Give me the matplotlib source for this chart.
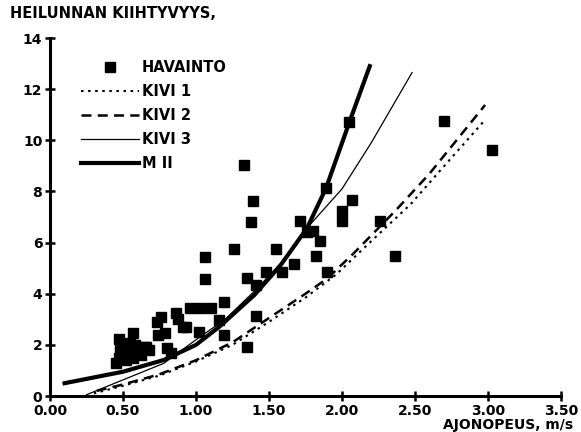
import matplotlib
matplotlib.use("Agg")
import matplotlib.pyplot as plt

plt.rcParams['font.family'] = ['DejaVu Sans']
plt.rcParams['font.weight'] = 'bold'

# havainnot (observations)
obs_x = [0.45, 0.47, 0.48, 0.50, 0.52, 0.53, 0.55, 0.57, 0.58, 0.60, 0.62, 0.65, 0.68,
         0.47, 0.55, 0.57, 0.66, 0.73, 0.74, 0.76, 0.79, 0.80, 0.83, 0.86, 0.88, 0.91,
         0.93, 0.96, 1.02, 1.03, 1.06, 1.06, 1.10, 1.16, 1.19, 1.19, 1.26, 1.33, 1.35,
         1.35, 1.38, 1.39, 1.41, 1.41, 1.48, 1.55, 1.59, 1.67, 1.71, 1.76, 1.80, 1.82,
         1.85, 1.89, 1.90, 2.00, 2.00, 2.05, 2.07, 2.26, 2.36, 2.70, 3.03]
obs_y = [1.3, 1.5, 1.8, 1.6, 1.4, 1.9, 1.7, 1.5, 2.0, 1.8, 1.6, 1.9, 1.8,
         2.22, 2.06, 2.48, 1.90, 2.91, 2.39, 3.07, 2.45, 1.86, 1.69, 3.23, 3.0, 2.71,
         2.71, 3.45, 2.51, 3.45, 5.42, 4.58, 3.45, 2.97, 3.69, 2.39, 5.74, 9.03, 4.63,
         1.93, 6.82, 7.63, 4.34, 3.14, 4.86, 5.76, 4.86, 5.16, 6.84, 6.40, 6.45, 5.47,
         6.07, 8.12, 4.85, 7.25, 6.84, 10.73, 7.66, 6.86, 5.49, 10.75, 9.62]

kivi1_x = [0.30, 0.50, 0.75, 1.00, 1.25, 1.50, 1.75, 1.96, 2.19, 2.47, 2.67, 2.98]
kivi1_y = [0.10, 0.40, 0.80, 1.35, 2.00, 2.90, 3.85, 4.75, 6.00, 7.50, 8.80, 10.80]

kivi2_x = [0.32, 0.50, 0.75, 1.00, 1.25, 1.50, 1.75, 1.90, 2.08, 2.37, 2.60, 2.98]
kivi2_y = [0.20, 0.45, 0.85, 1.40, 2.10, 3.05, 4.00, 4.60, 5.58, 7.27, 8.70, 11.38]

kivi3_x = [0.25, 0.50, 0.78, 1.00, 1.20, 1.40, 1.60, 1.75, 2.00, 2.20, 2.48]
kivi3_y = [0.05, 0.63, 1.28, 2.20, 3.00, 4.10, 5.30, 6.50, 8.10, 9.90, 12.65]

m2_x = [0.10, 0.50, 0.78, 1.00, 1.16, 1.40, 1.58, 1.76, 1.89, 2.05, 2.19]
m2_y = [0.50, 0.95, 1.41, 2.00, 2.71, 3.95, 5.12, 6.56, 8.12, 10.70, 12.90]

x_ticks = [0.0, 0.5, 1.0, 1.5, 2.0, 2.5, 3.0, 3.5]
y_ticks = [0, 2, 4, 6, 8, 10, 12, 14]

fig = plt.figure(figsize=(5.81, 4.32), dpi=100)
ax = fig.add_axes([50/581, 36/432, 511/581, 358/432])

ax.plot(obs_x, obs_y, 's', color='black', ms=7.2, label='HAVAINTO', zorder=3)
ax.plot(kivi1_x, kivi1_y, color='black', lw=1.5, ls=(0, (1.2, 2.2)), label='KIVI 1')
ax.plot(kivi2_x, kivi2_y, color='black', lw=1.8, ls=(0, (4, 2.5)), label='KIVI 2')
ax.plot(kivi3_x, kivi3_y, color='black', lw=0.9, label='KIVI 3')
ax.plot(m2_x, m2_y, color='black', lw=3.0, label='M II')

ax.set_xlim(0, 3.5)
ax.set_ylim(0, 14)
ax.set_xticks(x_ticks)
ax.set_xticklabels(['%.2f' % v for v in x_ticks])
ax.set_yticks(y_ticks)
for s in ['top', 'right']:
    ax.spines[s].set_visible(False)
for s in ['left', 'bottom']:
    ax.spines[s].set_linewidth(2.2)
ax.tick_params(direction='inout', length=7, width=1.8, labelsize=10, pad=2)
for lab in ax.get_xticklabels() + ax.get_yticklabels():
    lab.set_fontweight('bold')

leg = ax.legend(loc='upper left', bbox_to_anchor=(0.035, 0.975), frameon=False,
                handlelength=4.0, handletextpad=0.15, labelspacing=0.62,
                prop={'weight': 'bold', 'size': 10.5})

fig.text(10/581, 1 - 14/432, 'HEILUNNAN KIIHTYVYYS,', fontsize=10.5, fontweight='bold',
         va='center', ha='left')
fig.text(573/581, 1 - 425/432, 'AJONOPEUS, m/s', fontsize=10, fontweight='bold',
         va='center', ha='right')

fig.savefig('out.png', dpi=100)
